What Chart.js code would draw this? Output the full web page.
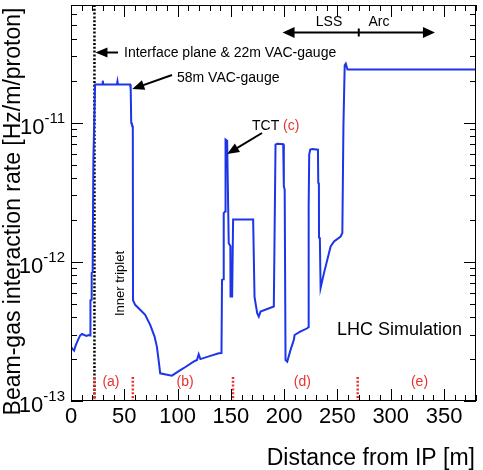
<!DOCTYPE html>
<html>
<head>
<meta charset="utf-8">
<title>Beam-gas interaction rate</title>
<script src="https://cdn.jsdelivr.net/npm/chart.js@4"></script>
<style>
  html, body { margin: 0; padding: 0; background: #fff; }
  canvas { display: block; }
</style>
</head>
<body>
<canvas id="myChart" width="483" height="470"></canvas>
<script>
// distance from IP [m] and beam-gas rate [Hz/m/proton]
var distances = [
  0, 1.5, 2.9, 4.5, 6.6, 8.5, 10.3, 12.5, 14.5, 16.5, 17.9, 17.9, 18.6, 19.4, 19.4, 20.3, 21.0, 22.6,
  29.3, 29.8, 30.3, 43.1, 43.6, 44.1, 55.5, 56.0, 56.5, 57.2, 58.0, 58.2,
  60.2, 64.9, 69.6, 74.3, 78.4, 80.6, 82.2, 83.7, 89, 94.7, 100, 105.6, 115, 118.2, 119.8, 121.4, 130, 138.6,
  141.2, 141.7, 143.0, 143.3, 144.6, 145.0, 146.5, 148.0, 149.5, 149.7, 151.2, 152.1, 170.9,
  172.2, 174.7, 176.2, 177.8, 190.3, 191.9, 193.5, 199.1, 199.7, 200.5, 201.3, 202.9,
  206.0, 209.1, 209.8, 215, 221.7, 222.9, 223.0, 223.5, 224.5, 226.3, 231.7, 232.0, 232.6, 232.7, 233.5, 234.2,
  237.4, 243.6, 246.8, 253.0, 254.6, 255.6, 256.8, 257.8, 259.4, 380
];
var rates = [
  2.45e-13, 2.36e-13, 2.30e-13, 2.52e-13, 2.75e-13, 2.95e-13, 3.03e-13, 2.98e-13, 2.94e-13, 2.98e-13, 2.95e-13, 5.15e-13, 5.3e-13, 5.33e-13, 8.3e-13, 8.4e-13, 5.4e-12, 1.88e-11,
  1.88e-11, 2.0e-11, 1.88e-11, 1.88e-11, 1.98e-11, 1.88e-11, 1.88e-11, 1.75e-11, 1.0e-11, 9.6e-12, 9.4e-12, 5.3e-13,
  4.91e-13, 4.52e-13, 4.16e-13, 3.52e-13, 2.90e-13, 2.45e-13, 1.97e-13, 1.58e-13, 1.55e-13, 1.52e-13, 1.62e-13, 1.72e-13, 1.92e-13, 1.97e-13, 2.17e-13, 2.0e-13, 2.1e-13, 2.2e-13,
  2.21e-13, 7.42e-13, 7.5e-13, 2.24e-12, 2.3e-12, 7.55e-12, 7.4e-12, 1.36e-12, 1.3e-12, 5.63e-13, 5.63e-13, 2.01e-12, 2.01e-12,
  5.6e-13, 4.27e-13, 4.04e-13, 4.39e-13, 4.77e-13, 6.95e-12, 7.06e-12, 7.0e-12, 3.48e-12, 3.3e-12, 1.97e-13, 1.92e-13,
  2.33e-13, 2.75e-13, 2.98e-13, 3.15e-13, 3.33e-13, 3.4e-13, 2.5e-12, 5.9e-12, 6.4e-12, 6.47e-12, 6.39e-12, 3.7e-12, 3.6e-12, 1.5e-12, 1.45e-12, 6.5e-13,
  8.33e-13, 1.29e-12, 1.40e-12, 1.52e-12, 1.61e-12, 9.36e-12, 2.58e-11, 2.65e-11, 2.41e-11, 2.41e-11
];

var xTicks = [0, 50, 100, 150, 200, 250, 300, 350];
var yDecades = [-13, -12, -11];
var regionEdges = [22, 58, 152, 269];
var regionLabels = ["(a)", "(b)", "(d)", "(e)"];
var regionLabelX = [37.5, 107, 217, 327];

var FONT = "'Liberation Sans', Arial, Helvetica, sans-serif";
var RED = "#e8322e";

function arrowHead(ctx, x1, y1, x2, y2, len, half) {
  var a = Math.atan2(y2 - y1, x2 - x1);
  ctx.beginPath();
  ctx.moveTo(x2, y2);
  ctx.lineTo(x2 - len * Math.cos(a) + half * Math.sin(a), y2 - len * Math.sin(a) - half * Math.cos(a));
  ctx.lineTo(x2 - len * Math.cos(a) - half * Math.sin(a), y2 - len * Math.sin(a) + half * Math.cos(a));
  ctx.closePath();
  ctx.fill();
}

function arrow(ctx, x1, y1, x2, y2) {
  var a = Math.atan2(y2 - y1, x2 - x1);
  ctx.beginPath();
  ctx.moveTo(x1, y1);
  ctx.lineTo(x2 - 8 * Math.cos(a), y2 - 8 * Math.sin(a));
  ctx.stroke();
  arrowHead(ctx, x1, y1, x2, y2, 12, 5);
}

var dottedLines = {
  id: "dottedLines",
  beforeDatasetsDraw(chart) {
    var ctx = chart.ctx, xs = chart.scales.x, area = chart.chartArea;
    ctx.save();
    // interface plane
    ctx.strokeStyle = "#000";
    ctx.lineWidth = 2.5;
    ctx.setLineDash([2, 1.8]);
    var xi = xs.getPixelForValue(22);
    ctx.beginPath();
    ctx.moveTo(xi, area.top);
    ctx.lineTo(xi, area.bottom);
    ctx.stroke();
    ctx.restore();
  },
  afterDatasetsDraw(chart) {
    var ctx = chart.ctx, xs = chart.scales.x, area = chart.chartArea;
    ctx.save();
    ctx.strokeStyle = RED;
    ctx.lineWidth = 2.5;
    ctx.setLineDash([2, 1.8]);
    regionEdges.forEach(function (m) {
      var px = xs.getPixelForValue(m);
      ctx.beginPath();
      ctx.moveTo(px, area.bottom - 24);
      ctx.lineTo(px, area.bottom);
      ctx.stroke();
    });
    ctx.setLineDash([]);
    ctx.fillStyle = RED;
    ctx.font = "14px " + FONT;
    ctx.textAlign = "center";
    ctx.textBaseline = "middle";
    regionLabels.forEach(function (t, i) {
      ctx.fillText(t, xs.getPixelForValue(regionLabelX[i]), area.bottom - 19);
    });
    ctx.restore();
  }
};

var rootAxes = {
  id: "rootAxes",
  afterDraw(chart) {
    var ctx = chart.ctx, xs = chart.scales.x, ys = chart.scales.y, area = chart.chartArea;
    ctx.save();
    ctx.strokeStyle = "#000";
    ctx.lineWidth = 1;
    ctx.strokeRect(area.left + 0.5, area.top + 0.5, area.right - area.left - 1, area.bottom - area.top - 1);

    // x ticks, bottom and top
    ctx.beginPath();
    for (var m = 0; m <= 380; m += 10) {
      var px = Math.round(xs.getPixelForValue(m)) + 0.5;
      var len = (m % 50 === 0) ? 12 : 6;
      ctx.moveTo(px, area.bottom);
      ctx.lineTo(px, area.bottom - len);
      ctx.moveTo(px, area.top);
      ctx.lineTo(px, area.top + len);
    }
    // y ticks, left and right
    for (var d = -13; d <= -11; d++) {
      for (var k = 1; k <= 9; k++) {
        var v = k * Math.pow(10, d);
        if (v > ys.max) break;
        var py = Math.round(ys.getPixelForValue(v)) + 0.5;
        var l = (k === 1) ? 12 : 6;
        ctx.moveTo(area.left, py);
        ctx.lineTo(area.left + l, py);
        ctx.moveTo(area.right, py);
        ctx.lineTo(area.right - l, py);
      }
    }
    ctx.stroke();

    // tick labels
    ctx.fillStyle = "#000";
    ctx.font = "22px " + FONT;
    ctx.textAlign = "center";
    ctx.textBaseline = "alphabetic";
    xTicks.forEach(function (t) {
      ctx.fillText(String(t), xs.getPixelForValue(t), area.bottom + 22);
    });
    yDecades.forEach(function (e) {
      var py = ys.getPixelForValue(Math.pow(10, e));
      ctx.textAlign = "right";
      ctx.font = "15px " + FONT;
      var sup = String(e);
      var w = ctx.measureText(sup).width;
      ctx.fillText(sup, 65, py);
      ctx.font = "22px " + FONT;
      ctx.fillText("10", 65 - w, py + 11);
    });

    // axis titles
    ctx.font = "23px " + FONT;
    ctx.textAlign = "right";
    ctx.fillText("Distance from IP [m]", 475, 465);
    ctx.save();
    ctx.translate(20, 211.5);
    ctx.rotate(-Math.PI / 2);
    ctx.textAlign = "center";
    ctx.fillText("Beam-gas interaction rate [Hz/m/proton]", 0, 0);
    ctx.restore();

    // annotations
    ctx.font = "14px " + FONT;
    ctx.textAlign = "left";
    ctx.fillText("Interface plane & 22m VAC-gauge", 124, 57);
    ctx.fillText("58m VAC-gauge", 177, 82);
    ctx.fillText("TCT", 252, 130);
    var wT = ctx.measureText("TCT ").width;
    ctx.fillStyle = RED;
    ctx.fillText("(c)", 252 + wT, 130);
    ctx.fillStyle = "#000";
    ctx.textAlign = "center";
    ctx.fillText("LSS", 329, 26);
    ctx.fillText("Arc", 379, 26);
    ctx.font = "18px " + FONT;
    ctx.textAlign = "left";
    ctx.fillText("LHC Simulation", 337, 335);

    ctx.save();
    ctx.translate(123.5, 283.5);
    ctx.rotate(-Math.PI / 2);
    ctx.font = "13px " + FONT;
    ctx.textAlign = "center";
    ctx.fillText("Inner triplet", 0, 0);
    ctx.restore();

    ctx.lineWidth = 2;
    ctx.strokeStyle = "#000";
    ctx.fillStyle = "#000";
    arrow(ctx, 118, 52.5, xs.getPixelForValue(22) + 1, 52.5);
    arrow(ctx, 172, 75, xs.getPixelForValue(57.5), 89);
    arrow(ctx, 262, 133, xs.getPixelForValue(146.5), 154);

    // LSS / Arc double arrow
    var xa = xs.getPixelForValue(198.5), xb = xs.getPixelForValue(341.5), xm = xs.getPixelForValue(270);
    ctx.beginPath();
    ctx.moveTo(xa + 8, 32.5);
    ctx.lineTo(xb - 8, 32.5);
    ctx.moveTo(xm, 28.5);
    ctx.lineTo(xm, 36.5);
    ctx.stroke();
    arrowHead(ctx, xb, 32.5, xa, 32.5, 12, 5.5);
    arrowHead(ctx, xa, 32.5, xb, 32.5, 12, 5.5);
    ctx.restore();
  }
};

var points = distances.map(function (d, i) {
  return { x: d, y: rates[i] };
});

var myChart = new Chart(document.querySelector("#myChart").getContext("2d"), {
  type: "line",
  data: {
    datasets: [{
      label: "Beam-gas rate",
      data: points,
      borderColor: "#1c35e8",
      borderWidth: 2,
      pointRadius: 0,
      tension: 0,
      fill: false
    }]
  },
  options: {
    responsive: false,
    animation: false,
    devicePixelRatio: 1,
    layout: { padding: { left: 71, right: 7, top: 5, bottom: 69 } },
    plugins: { legend: { display: false }, tooltip: { enabled: false } },
    scales: {
      x: { type: "linear", min: 0, max: 380, display: false },
      y: { type: "logarithmic", min: 1e-13, max: 7e-11, display: false }
    }
  },
  plugins: [dottedLines, rootAxes]
});
</script>
</body>
</html>
